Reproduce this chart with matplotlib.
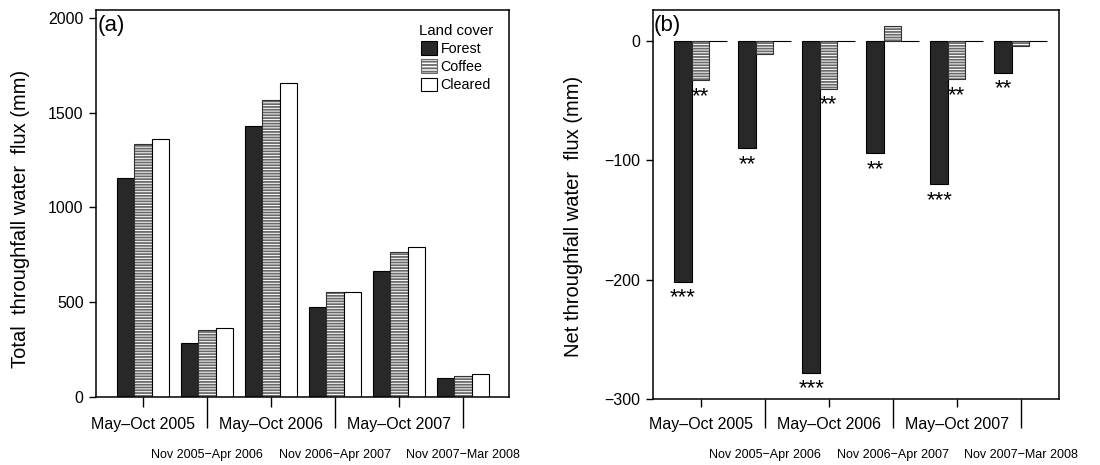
import matplotlib
matplotlib.use("Agg")
import matplotlib.pyplot as plt
from matplotlib.patches import Patch
import numpy as np

plt.rcParams['font.family'] = ['Liberation Sans', 'DejaVu Sans']
plt.rcParams['hatch.linewidth'] = 1.3

# ---------------- data ----------------
periods = ["May\u2013Oct 2005", "Nov 2005\u2212Apr 2006", "May\u2013Oct 2006",
           "Nov 2006\u2212Apr 2007", "May\u2013Oct 2007", "Nov 2007\u2212Mar 2008"]
land_cover = ["Forest", "Coffee", "Cleared"]

total_forest = [1158, 287, 1431, 477, 665, 102]
total_coffee = [1334, 354, 1565, 556, 764, 111]
total_cleared = [1360, 366, 1656, 556, 790, 120]

net_forest = [-202, -90, -278, -94, -120, -26.5]
net_coffee = [-33, -11, -40, 12.5, -32, -4]
net_cleared = [0, 0, 0, 0, 0, 0]

sig_forest = ["***", "**", "***", "**", "***", "**"]
sig_coffee = ["**", "", "**", "", "**", ""]

# ---------------- style ----------------
FOREST = "#282828"
HATCH_GRAY = "#6a6a6a"
HATCH = "------"
PITCH = 3.667
EDGE_LW = 0.8

fig = plt.figure(figsize=(11, 4.65), dpi=100)
axA = fig.add_axes([0.0873, 0.1462, 0.3755, 0.8323])
axB = fig.add_axes([0.5934, 0.1419, 0.3694, 0.8366])

g = np.arange(len(periods))
left = g * PITCH


def draw_bars(ax, forest, coffee, cleared):
    xf = left + 0.5
    xc = left + 1.5
    xl = left + 2.5
    ax.bar(xf, forest, width=1, color=FOREST, edgecolor="black", linewidth=EDGE_LW)
    ax.bar(xc, coffee, width=1, facecolor="white", edgecolor=HATCH_GRAY,
           linewidth=0, hatch=HATCH)
    ax.bar(xc, coffee, width=1, fill=False, edgecolor="#333333", linewidth=EDGE_LW)
    ax.bar(xl, cleared, width=1, facecolor="white", edgecolor="black", linewidth=EDGE_LW)
    return xf, xc, xl


def style_axis(ax, short_len, long_len):
    centers = left + 1.5
    ax.set_xticks(centers[0::2], labels=[periods[i] for i in range(0, 6, 2)])
    ax.set_xticks(centers[1::2], labels=[periods[i] for i in range(1, 6, 2)], minor=True)
    ax.tick_params(axis='x', which='major', length=short_len, width=1.0,
                   labelsize=11.5, pad=7)
    ax.tick_params(axis='x', which='minor', length=long_len, width=1.0,
                   labelsize=9, pad=15)
    ax.tick_params(axis='y', which='major', length=5, width=1.0, labelsize=11.5, pad=4)
    for s in ax.spines.values():
        s.set_linewidth(1.1)


# ---- panel (a)
draw_bars(axA, total_forest, total_coffee, total_cleared)
axA.set_xlim(-1.2, 5 * PITCH + 3 + 1.15)
axA.set_ylim(0, 2042)
axA.set_yticks([0, 500, 1000, 1500, 2000])
style_axis(axA, 7.2, 22.3)
axA.set_ylabel("Total  throughfall water  flux (mm)", fontsize=14.5)
axA.yaxis.set_label_coords(-0.16, 0.46)
axA.text(0.003, 0.987, "(a)", transform=axA.transAxes, ha="left", va="top", fontsize=16)

handles = [Patch(facecolor=FOREST, edgecolor="black", linewidth=EDGE_LW),
           Patch(facecolor="white", edgecolor=HATCH_GRAY, hatch="-----", linewidth=EDGE_LW),
           Patch(facecolor="white", edgecolor="black", linewidth=EDGE_LW)]
leg = axA.legend(handles, land_cover, title="Land cover", loc="upper right",
                 bbox_to_anchor=(0.962, 0.965), frameon=False, fontsize=10.3,
                 title_fontsize=10.8, handlelength=1.1, handleheight=1.1,
                 handletextpad=0.25, labelspacing=0.25, borderpad=0, borderaxespad=0)

# ---- panel (b)
xf, xc, xl = draw_bars(axB, net_forest, net_coffee, net_cleared)
axB.set_xlim(-1.24, 5 * PITCH + 3 + 0.7)
axB.set_ylim(-300, 26)
axB.set_yticks([0, -100, -200, -300])
style_axis(axB, 6, 21)
axB.set_ylabel("Net throughfall water  flux (mm)", fontsize=14.5)
axB.yaxis.set_label_coords(-0.1715, 0.47)
axB.text(0.003, 0.987, "(b)", transform=axB.transAxes, ha="left", va="top", fontsize=16)

for x, v, s in zip(xf, net_forest, sig_forest):
    if s:
        axB.annotate(s, (x, v), xytext=(0, -4), textcoords="offset points",
                     ha="center", va="top", fontsize=16)
for x, v, s in zip(xc, net_coffee, sig_coffee):
    if s:
        axB.annotate(s, (x, v), xytext=(0, -4), textcoords="offset points",
                     ha="center", va="top", fontsize=16)

fig.savefig("out.png", dpi=100)
